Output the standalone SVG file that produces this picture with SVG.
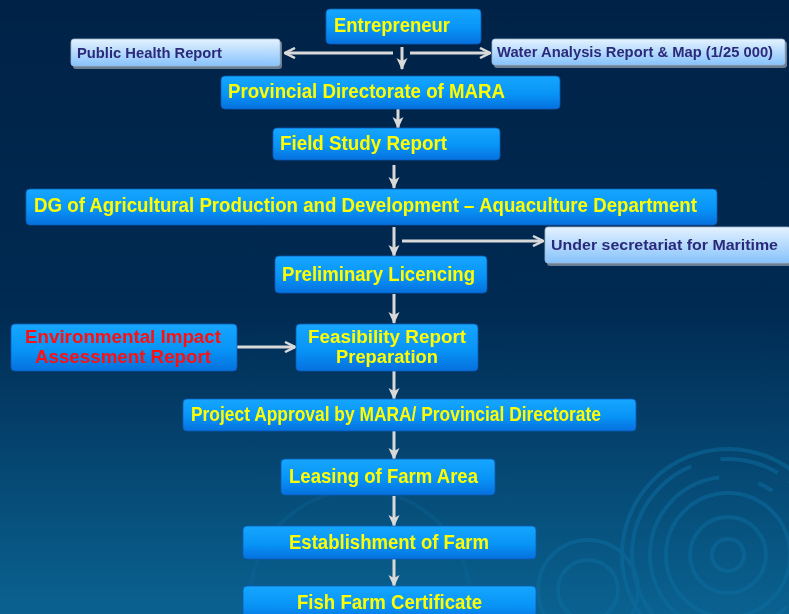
<svg xmlns="http://www.w3.org/2000/svg" width="789" height="614" viewBox="0 0 789 614">
<defs>
<linearGradient id="bg" x1="0" y1="0" x2="0" y2="1">
<stop offset="0" stop-color="#002247"/>
<stop offset="0.5" stop-color="#002a52"/>
<stop offset="1" stop-color="#0a6290"/>
</linearGradient>
<linearGradient id="blue" x1="0" y1="0" x2="0" y2="1">
<stop offset="0" stop-color="#16a6ff"/>
<stop offset="0.55" stop-color="#0894f6"/>
<stop offset="1" stop-color="#0670de"/>
</linearGradient>
<linearGradient id="light" x1="0" y1="0" x2="0" y2="1">
<stop offset="0" stop-color="#e4f2ff"/>
<stop offset="1" stop-color="#86c2fb"/>
</linearGradient>
<marker id="ah" viewBox="0 0 12 12" refX="11" refY="6" markerWidth="12" markerHeight="12" markerUnits="userSpaceOnUse" orient="auto">
<path d="M0,0.5 L12,6 L0,11.5 L3,6 Z" fill="#d9d9d9"/>
</marker>
<marker id="ao" viewBox="0 0 12 12" refX="11" refY="6" markerWidth="12" markerHeight="12" markerUnits="userSpaceOnUse" orient="auto">
<path d="M1,1 L11,6 L1,11" fill="none" stroke="#d9d9d9" stroke-width="2.5"/>
</marker>
</defs>
<style>
.b{fill:url(#blue);stroke:#0a5cb8;stroke-width:0.8}
.l{fill:url(#light);stroke:#9fb8d0;stroke-width:0.8}
.sh{fill:#6b7f93}
.t{font-family:"Liberation Sans",Arial,sans-serif;font-weight:bold;font-size:19.5px;fill:#ffff00}
.d{font-family:"Liberation Sans",Arial,sans-serif;font-weight:bold;font-size:15.5px;fill:#2b2a7a}
.r{font-family:"Liberation Sans",Arial,sans-serif;font-weight:bold;font-size:17.5px;fill:#ff1010}
.t2{font-size:17.5px}
.c{stroke:#d9d9d9;stroke-width:3;fill:none}
.rip{fill:none;stroke:#0c6ea0;stroke-width:4}
</style>
<rect width="789" height="614" fill="url(#bg)"/>
<g id="ripples" opacity="0.5">
<circle class="rip" cx="728" cy="555" r="106"/>
<circle class="rip" cx="728" cy="555" r="96" stroke-dasharray="60 14 120 20 200 30"/>
<circle class="rip" cx="728" cy="555" r="78" stroke-dasharray="40 16 90 12 200"/>
<circle class="rip" cx="728" cy="555" r="62"/>
<circle class="rip" cx="728" cy="555" r="38" stroke-width="8"/>
<circle class="rip" cx="728" cy="555" r="16" stroke-width="8"/>
<circle class="rip" cx="588" cy="590" r="30" stroke-width="6"/>
<circle class="rip" cx="588" cy="590" r="50" stroke-width="3"/>
<circle class="rip" cx="360" cy="600" r="110" stroke-width="3" opacity="0.5"/>
</g>
<g id="connectors">
<line class="c" x1="402" y1="47" x2="402" y2="69" marker-end="url(#ah)"/>
<line class="c" x1="393" y1="53" x2="285" y2="53" marker-end="url(#ao)"/>
<line class="c" x1="410" y1="53" x2="490" y2="53" marker-end="url(#ao)"/>
<line class="c" x1="398" y1="105" x2="398" y2="128" marker-end="url(#ah)"/>
<line class="c" x1="394" y1="165" x2="394" y2="188" marker-end="url(#ah)"/>
<line class="c" x1="394" y1="227" x2="394" y2="256" marker-end="url(#ah)"/>
<line class="c" x1="402" y1="241" x2="543" y2="241" marker-end="url(#ao)"/>
<line class="c" x1="394" y1="294" x2="394" y2="323" marker-end="url(#ah)"/>
<line class="c" x1="237" y1="347" x2="295" y2="347" marker-end="url(#ao)"/>
<line class="c" x1="394" y1="371" x2="394" y2="399" marker-end="url(#ah)"/>
<line class="c" x1="394" y1="430" x2="394" y2="459" marker-end="url(#ah)"/>
<line class="c" x1="394" y1="496" x2="394" y2="526" marker-end="url(#ah)"/>
<line class="c" x1="394" y1="559" x2="394" y2="586" marker-end="url(#ah)"/>
</g>
<g id="entrepreneur">
<rect class="b" x="326" y="9" width="155" height="35" rx="4"/>
<text class="t" x="334" y="32" textLength="116" lengthAdjust="spacingAndGlyphs">Entrepreneur</text>
</g>
<g id="public-health">
<rect class="sh" x="73" y="41" width="209" height="28" rx="3"/>
<rect class="l" x="71" y="39" width="209" height="27" rx="3"/>
<text class="d" x="77" y="58" textLength="145" lengthAdjust="spacingAndGlyphs">Public Health Report</text>
</g>
<g id="water-analysis">
<rect class="sh" x="494" y="41" width="293" height="27" rx="3"/>
<rect class="l" x="492" y="39" width="293" height="26" rx="3"/>
<text class="d" x="497" y="57" textLength="276" lengthAdjust="spacingAndGlyphs">Water Analysis Report &amp; Map (1/25 000)</text>
</g>
<g id="provincial">
<rect class="b" x="221" y="76" width="339" height="33" rx="4"/>
<text class="t" x="228" y="98" textLength="277" lengthAdjust="spacingAndGlyphs">Provincial Directorate of MARA</text>
</g>
<g id="field-study">
<rect class="b" x="273" y="128" width="227" height="32" rx="4" stroke="#ffffff" stroke-width="2"/>
<text class="t" x="280" y="150" textLength="167" lengthAdjust="spacingAndGlyphs">Field Study Report</text>
</g>
<g id="dg">
<rect class="b" x="26" y="189" width="691" height="36" rx="4"/>
<text class="t" x="34" y="212" textLength="663" lengthAdjust="spacingAndGlyphs">DG of Agricultural Production and Development – Aquaculture Department</text>
</g>
<g id="under-secretariat">
<rect class="sh" x="547" y="229" width="245" height="37" rx="3"/>
<rect class="l" x="545" y="227" width="246" height="36" rx="3"/>
<text class="d" x="551" y="250" font-size="16.5" textLength="227" lengthAdjust="spacingAndGlyphs">Under secretariat for Maritime</text>
</g>
<g id="preliminary">
<rect class="b" x="275" y="256" width="212" height="37" rx="4"/>
<text class="t" x="282" y="281" textLength="193" lengthAdjust="spacingAndGlyphs">Preliminary Licencing</text>
</g>
<g id="eia">
<rect class="b" x="11" y="324" width="226" height="47" rx="4"/>
<text class="r" x="123" y="343" text-anchor="middle" textLength="196" lengthAdjust="spacingAndGlyphs">Environmental Impact</text>
<text class="r" x="123" y="363" text-anchor="middle" textLength="176" lengthAdjust="spacingAndGlyphs">Assessment Report</text>
</g>
<g id="feasibility">
<rect class="b" x="296" y="324" width="182" height="47" rx="4"/>
<text class="t t2" x="387" y="343" text-anchor="middle" textLength="158" lengthAdjust="spacingAndGlyphs">Feasibility Report</text>
<text class="t t2" x="387" y="363" text-anchor="middle" textLength="102" lengthAdjust="spacingAndGlyphs">Preparation</text>
</g>
<g id="project-approval">
<rect class="b" x="183" y="399" width="453" height="32" rx="4"/>
<text class="t" x="191" y="421" font-size="18.5" textLength="410" lengthAdjust="spacingAndGlyphs">Project Approval by MARA/ Provincial Directorate</text>
</g>
<g id="leasing">
<rect class="b" x="281" y="459" width="214" height="36" rx="4"/>
<text class="t" x="289" y="483" textLength="189" lengthAdjust="spacingAndGlyphs">Leasing of Farm Area</text>
</g>
<g id="establishment">
<rect class="b" x="243" y="526" width="293" height="33" rx="4"/>
<text class="t" x="289" y="549" textLength="200" lengthAdjust="spacingAndGlyphs">Establishment of Farm</text>
</g>
<g id="fish-farm-certificate">
<rect class="b" x="243" y="586" width="293" height="36" rx="4"/>
<text class="t" x="297" y="609" textLength="185" lengthAdjust="spacingAndGlyphs">Fish Farm Certificate</text>
</g>
</svg>
